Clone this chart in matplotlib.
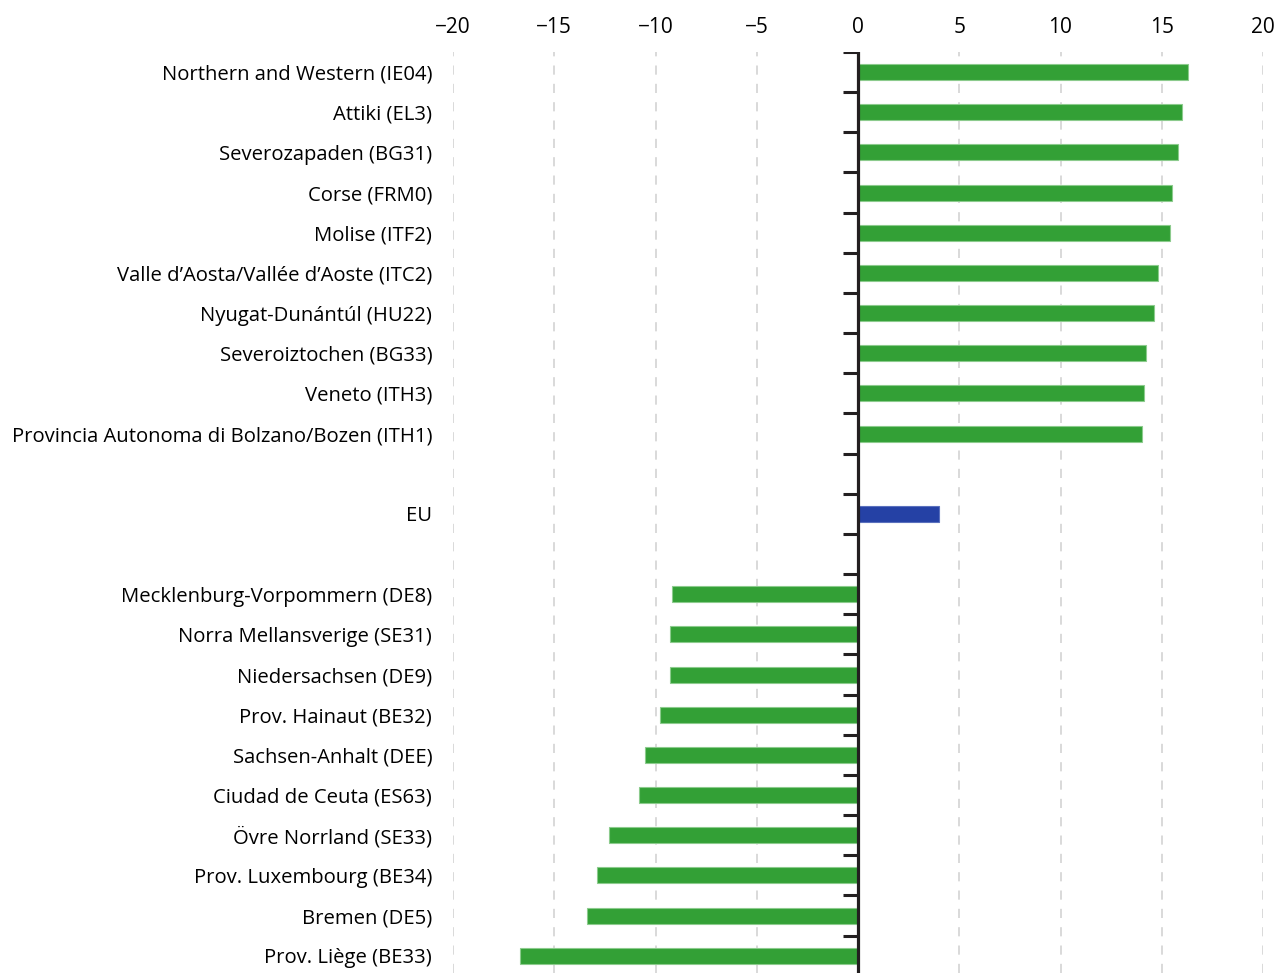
import matplotlib
matplotlib.use("Agg")
import matplotlib.pyplot as plt
import numpy as np

top_regions = ["Northern and Western (IE04)", "Attiki (EL3)", "Severozapaden (BG31)",
               "Corse (FRM0)", "Molise (ITF2)", "Valle d’Aosta/Vallée d’Aoste (ITC2)",
               "Nyugat-Dunántúl (HU22)", "Severoiztochen (BG33)", "Veneto (ITH3)",
               "Provincia Autonoma di Bolzano/Bozen (ITH1)"]
top_values = [16.3, 16.0, 15.8, 15.5, 15.4, 14.8, 14.6, 14.2, 14.1, 14.0]
eu_label = "EU"
eu_value = 4.0
bottom_regions = ["Mecklenburg-Vorpommern (DE8)", "Norra Mellansverige (SE31)",
                  "Niedersachsen (DE9)", "Prov. Hainaut (BE32)", "Sachsen-Anhalt (DEE)",
                  "Ciudad de Ceuta (ES63)", "Övre Norrland (SE33)", "Prov. Luxembourg (BE34)",
                  "Bremen (DE5)", "Prov. Liège (BE33)"]
bottom_values = [-9.2, -9.3, -9.3, -9.8, -10.5, -10.8, -12.3, -12.9, -13.4, -16.7]
x_ticks = [-20, -15, -10, -5, 0, 5, 10, 15, 20]

GREEN = "#33a036"
GREEN_EDGE = "#8ccb8d"
BLUE = "#2541a5"

plt.rcParams['font.family'] = ['Open Sans', 'DejaVu Sans']

fig = plt.figure(figsize=(12.77, 9.73), dpi=100)
W, H = 1277, 973
ax = fig.add_axes([453 / W, 0, (1263 - 453) / W, 1 - 52 / H])

labels = top_regions + [""] + [eu_label] + [""] + bottom_regions
values = top_values + [np.nan] + [eu_value] + [np.nan] + bottom_values
colors = [GREEN] * len(top_regions) + [GREEN, BLUE, GREEN] + [GREEN] * len(bottom_regions)
ypos = np.arange(len(labels))

for y, v, c in zip(ypos, values, colors):
    if np.isnan(v):
        continue
    ec = GREEN_EDGE if c == GREEN else "#5a70bd"
    ax.barh(y, v, height=0.4, color=c, edgecolor=ec, linewidth=0.8, zorder=3)

ax.set_xlim(-20, 20)
ax.set_ylim(22.43, -0.5)

# grid lines
for xv in x_ticks:
    if xv != 0:
        ax.axvline(xv, color="#cfcfcf", lw=1.1, ls=(0, (6, 6)), zorder=1)

ax.axvline(0, color="#231f20", lw=2.3, zorder=4)
bounds = np.arange(-0.5, 22, 1.0)
tick_len = 15 / ((1263 - 453) / 40)
ax.hlines(bounds, -tick_len, 0, color="#231f20", lw=2.2, zorder=4)

ax.xaxis.tick_top()
ax.set_xticks(x_ticks)
ax.set_xticklabels([("\u2212" + str(abs(t))) if t < 0 else str(t) for t in x_ticks], fontsize=15)
ax.tick_params(axis='x', length=0, pad=10)

ax.set_yticks(ypos)
ax.set_yticklabels(labels, fontsize=14.6)
ax.tick_params(axis='y', length=0, pad=15)

for s in ax.spines.values():
    s.set_visible(False)

fig.savefig("out.png", dpi=100, facecolor="white")
